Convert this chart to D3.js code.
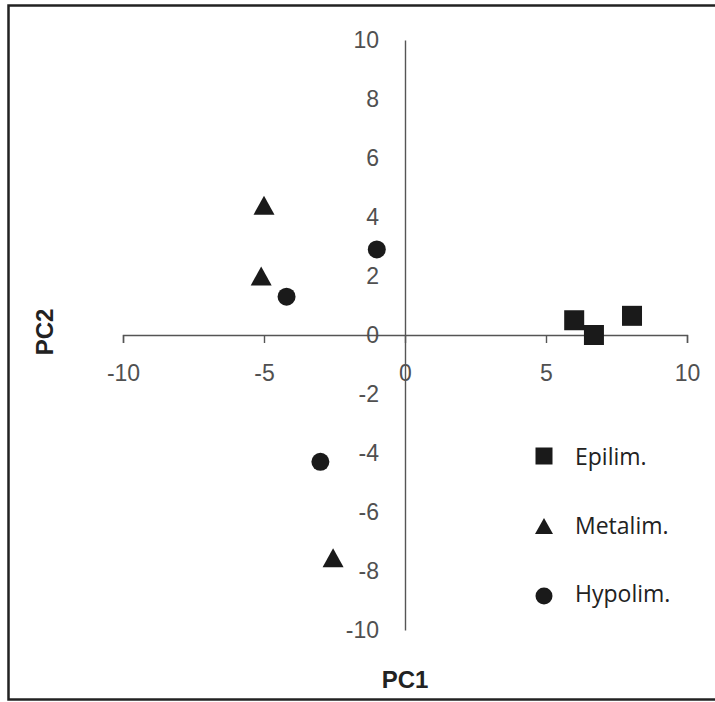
<!DOCTYPE html>
<html>
<head>
<meta charset="utf-8">
<script src="https://cdn.jsdelivr.net/npm/d3@7"></script>
<style>
  html, body { margin: 0; padding: 0; background: #fff; }
  svg { display: block; }
</style>
</head>
<body>
<svg id="chart" width="715" height="702"></svg>
<script>
// PCA scores per layer
const seriesNames = ["Epilim.", "Metalim.", "Hypolim."];
const epilimPC1 = [6.0, 6.7, 8.05];
const epilimPC2 = [0.5, 0.0, 0.65];
const metalimPC1 = [-5.0, -5.1, -2.55];
const metalimPC2 = [4.4, 2.0, -7.55];
const hypolimPC1 = [-1.0, -4.2, -3.0];
const hypolimPC2 = [2.9, 1.3, -4.3];
const xTicks = [-10, -5, 0, 5, 10];
const yTicks = [-10, -8, -6, -4, -2, 0, 2, 4, 6, 8, 10];

const svg = d3.select("#chart");

// outer frame (right side runs past the canvas)
svg.append("rect")
  .attr("x", 8.5).attr("y", 5.5)
  .attr("width", 730).attr("height", 694)
  .attr("fill", "none").attr("stroke", "#222").attr("stroke-width", 2.5);

const x = d3.scaleLinear().domain([-10, 10]).range([123, 687]);
const y = d3.scaleLinear().domain([-10, 10]).range([630, 40]);

const tickFont = "'Liberation Sans', Arial, sans-serif";

// horizontal axis through y = 0
const gx = svg.append("g")
  .attr("transform", `translate(0,${y(0)})`)
  .call(d3.axisBottom(x).tickValues(xTicks).tickSize(8).tickSizeOuter(8).tickPadding(22)
    .tickFormat(d3.format("d")));
// vertical axis through x = 0
const gy = svg.append("g")
  .attr("transform", `translate(${x(0)},0)`)
  .call(d3.axisLeft(y).tickValues(yTicks).tickSize(0).tickSizeOuter(0).tickPadding(26)
    .tickFormat(d3.format("d")));

[gx, gy].forEach(g => {
  g.select(".domain").attr("stroke", "#555").attr("stroke-width", 1.4);
  g.selectAll(".tick line").attr("stroke", "#555").attr("stroke-width", 1.4);
  g.selectAll(".tick text")
    .attr("fill", "#505050")
    .style("font-family", tickFont)
    .style("font-size", "23px");
});
gx.selectAll(".tick text").text(d => d < 0 ? "-" + Math.abs(d) : d);
gy.selectAll(".tick text").text(d => d < 0 ? "-" + Math.abs(d) : d);

// marker shapes drawn around a centre point
function square(g, cx, cy, s) {
  g.append("rect").attr("x", cx - s / 2).attr("y", cy - s / 2)
    .attr("width", s).attr("height", s).attr("fill", "#1a1a1a");
}
function triangle(g, cx, cy, w, h) {
  g.append("path")
    .attr("d", `M${cx},${cy - h / 2}L${cx + w / 2},${cy + h / 2}L${cx - w / 2},${cy + h / 2}Z`)
    .attr("fill", "#1a1a1a");
}
function circle(g, cx, cy, d) {
  g.append("circle").attr("cx", cx).attr("cy", cy).attr("r", d / 2).attr("fill", "#1a1a1a");
}

const pts = svg.append("g");
epilimPC1.forEach((v, i) => square(pts, x(v), y(epilimPC2[i]), 20));
metalimPC1.forEach((v, i) => triangle(pts, x(v), y(metalimPC2[i]), 21, 19));
hypolimPC1.forEach((v, i) => circle(pts, x(v), y(hypolimPC2[i]), 18));

// axis titles
svg.append("text")
  .attr("x", x(0)).attr("y", 679)
  .attr("text-anchor", "middle").attr("dominant-baseline", "central")
  .style("font-family", "'Liberation Sans', Arial, sans-serif")
  .style("font-weight", "bold").style("font-size", "24px").attr("fill", "#222")
  .text("PC1");
svg.append("text")
  .attr("transform", `translate(44,${332}) rotate(-90)`)
  .attr("text-anchor", "middle").attr("dominant-baseline", "central")
  .style("font-family", "'Liberation Sans', Arial, sans-serif")
  .style("font-weight", "bold").style("font-size", "24px").attr("fill", "#222")
  .text("PC2");

// legend
const legendY = [456, 525, 593];
const lg = svg.append("g");
square(lg, 544, legendY[0], 17);
triangle(lg, 544, legendY[1] + 1, 18, 16);
circle(lg, 544, legendY[2] + 3, 17);
seriesNames.forEach((name, i) => {
  lg.append("text")
    .attr("x", 575).attr("y", legendY[i])
    .attr("dominant-baseline", "central")
    .style("font-family", "'Open Sans', 'Noto Sans', sans-serif")
    .style("font-size", "23px").attr("fill", "#222")
    .text(name);
});
</script>
</body>
</html>
